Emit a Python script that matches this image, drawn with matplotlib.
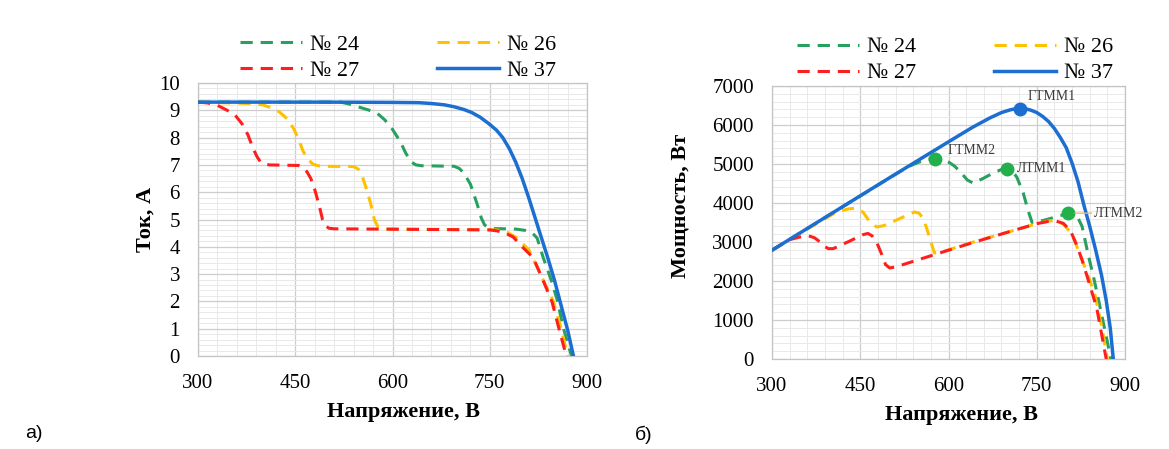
import matplotlib
matplotlib.use("Agg")
import matplotlib.pyplot as plt
from matplotlib.ticker import MultipleLocator

plt.rcParams["font.family"] = ["Liberation Serif", "DejaVu Serif"]

# ---- данные ВАХ (а): напряжение, В / ток, А ----
v24 = [300, 520, 535, 548, 562, 576, 588, 600, 612, 620, 628, 636, 645, 695, 703, 710,
       720, 730, 737, 742, 748, 756, 790, 805, 815, 823, 832, 843, 854, 863, 876]
i24 = [9.3, 9.3, 9.22, 9.12, 9.02, 8.9, 8.65, 8.3, 7.85, 7.45, 7.12, 7.0, 6.97, 6.95, 6.87,
       6.7, 6.3, 5.6, 5.05, 4.8, 4.7, 4.67, 4.65, 4.6, 4.52, 4.32, 3.63, 2.9, 2.05, 1.06, 0]

v26 = [300, 380, 400, 412, 425, 437, 447, 455, 462, 470, 477, 485, 495, 540, 547, 553, 560,
       566, 572, 577, 582, 590, 760, 775, 790, 810, 830, 848, 860, 870]
i26 = [9.3, 9.25, 9.2, 9.1, 8.95, 8.7, 8.35, 7.95, 7.5, 7.2, 7.03, 6.97, 6.95, 6.94, 6.85,
       6.6, 6.1, 5.6, 5.0, 4.75, 4.67, 4.65, 4.62, 4.56, 4.35, 3.9, 2.9, 2.0, 1.0, 0]

v27 = [300, 315, 330, 345, 357, 368, 377, 385, 391, 396, 402, 410, 455, 462, 468, 474, 480,
       487, 492, 497, 502, 510, 750, 762, 774, 786, 800, 817, 832, 846, 856, 868]
i27 = [9.3, 9.27, 9.18, 9.0, 8.83, 8.5, 8.1, 7.6, 7.3, 7.12, 7.04, 7.0, 6.98, 6.9, 6.75, 6.5,
       6.1, 5.5, 5.0, 4.76, 4.68, 4.66, 4.62, 4.58, 4.5, 4.36, 4.0, 3.6, 2.78, 1.98, 1.06, 0]

v37 = [300, 500, 600, 640, 660, 680, 695, 710, 722, 735, 748, 760, 770, 780, 790, 800, 810,
       820, 830, 840, 850, 860, 870, 879]
i37 = [9.3, 9.3, 9.29, 9.28, 9.25, 9.2, 9.13, 9.03, 8.92, 8.75, 8.52, 8.28, 8.0, 7.6, 7.1,
       6.5, 5.8, 5.05, 4.3, 3.55, 2.75, 1.85, 0.95, 0]

# ---- данные мощности (б): напряжение, В / мощность, Вт ----
pv24 = [300, 530, 550, 565, 577, 590, 600, 610, 620, 632, 642, 660, 676, 690, 700, 708, 716,
        727, 735, 742, 755, 770, 790, 803, 812, 820, 827, 837, 848, 858, 867, 876]
p24 = [2790, 4923, 5050, 5120, 5150, 5120, 5050, 4950, 4800, 4590, 4510, 4640, 4770, 4860,
       4897, 4820, 4666, 4256, 3820, 3500, 3530, 3590, 3680, 3720, 3710, 3620, 3400, 2700,
       2000, 1300, 650, 0]

pv26 = [300, 380, 410, 430, 444, 455, 467, 478, 490, 501, 530, 542, 550, 557, 563, 569, 576,
        585, 640, 700, 750, 770, 782, 795, 810, 830, 848, 860, 870]
p26 = [2790, 3510, 3770, 3850, 3870, 3760, 3500, 3385, 3420, 3490, 3690, 3770, 3740, 3600,
       3350, 3050, 2720, 2730, 2990, 3250, 3470, 3540, 3550, 3460, 3200, 2420, 1700, 860, 0]

pv27 = [300, 330, 345, 360, 372, 382, 390, 396, 404, 430, 455, 463, 470, 478, 486, 493, 500,
        510, 560, 640, 700, 750, 770, 782, 795, 807, 817, 827, 841, 852, 860, 868]
p27 = [2790, 3060, 3120, 3170, 3110, 3000, 2880, 2830, 2830, 3010, 3190, 3220, 3160, 2990,
       2700, 2420, 2335, 2360, 2600, 2980, 3250, 3470, 3530, 3540, 3480, 3300, 2950, 2540,
       1850, 1300, 650, 0]

pv37 = [300, 400, 500, 600, 640, 670, 690, 705, 715, 722, 730, 740, 750, 760, 770, 780, 790,
        800, 810, 820, 830, 840, 850, 860, 868, 875, 880]
p37 = [2790, 3720, 4650, 5570, 5935, 6180, 6320, 6390, 6420, 6430, 6420, 6380, 6320, 6220,
       6090, 5910, 5680, 5420, 5020, 4550, 3950, 3400, 2800, 2150, 1500, 780, 0]

# точки максимумов мощности
mpp_v = [722, 577, 700, 803]
mpp_p = [6420, 5140, 4880, 3740]
mpp_names = ["ГТММ1", "ГТММ2", "ЛТММ1", "ЛТММ2"]

x_ticks = [300, 450, 600, 750, 900]

# стили
c24, c26, c27, c37 = "#27a060", "#ffc000", "#ff1e1e", "#1c6fd0"
mpp_colors = [c37, "#22b04b", "#22b04b", "#22b04b"]
dash = (4, 2.6)
lw = 2.2


def oformit(ax, ymax, ystep, yminor):
    ax.set_xlim(300, 900)
    ax.set_ylim(0, ymax)
    ax.set_xticks(x_ticks)
    ax.yaxis.set_major_locator(MultipleLocator(ystep))
    ax.xaxis.set_minor_locator(MultipleLocator(30))
    ax.yaxis.set_minor_locator(MultipleLocator(yminor))
    ax.grid(which="major", color="#cdcdcd", linewidth=0.9)
    ax.grid(which="minor", color="#e9e9e9", linewidth=0.7)
    ax.set_axisbelow(True)
    ax.tick_params(which="both", length=0, labelsize=15, pad=13)
    for s in ax.spines.values():
        s.set_color("#c4c4c4")
        s.set_linewidth(0.9)
    ax.set_xlabel("Напряжение, В", fontsize=16, fontweight="bold", labelpad=8)


def krivye(ax, data):
    lines = []
    for (x, y, col, lab) in data:
        if lab == "№ 37":
            ln, = ax.plot(x, y, color=col, linewidth=lw + 0.3, label=lab, zorder=5)
        else:
            ln, = ax.plot(x, y, color=col, linewidth=lw, label=lab, zorder=4)
            ln.set_dashes(dash)
        lines.append(ln)
    # порядок для двух колонок: 24, 27 | 26, 37
    h = [lines[0], lines[2], lines[1], lines[3]]
    return h


fig = plt.figure(figsize=(11.69, 4.49), dpi=100)
ax1 = fig.add_axes([0.1694, 0.2071, 0.3328, 0.608])
ax2 = fig.add_axes([0.6604, 0.2004, 0.302, 0.608])

# ---- а) ВАХ ----
h1 = krivye(ax1, [(v24, i24, c24, "№ 24"), (v26, i26, c26, "№ 26"),
                  (v27, i27, c27, "№ 27"), (v37, i37, c37, "№ 37")])
oformit(ax1, 10, 1, 0.2)
ax1.set_ylabel("Ток, А", fontsize=16, fontweight="bold")
ax1.yaxis.set_label_coords(-0.11, 0.5)
ax1.xaxis.set_label_coords(0.527, -0.17)
ax1.legend(h1, [l.get_label() for l in h1], ncol=2, loc="center",
           bbox_to_anchor=(0.3405, 0.872), bbox_transform=fig.transFigure,
           frameon=False, fontsize=16, handlelength=2.8, handletextpad=0.35,
           columnspacing=3.5, labelspacing=0.25, borderpad=0)

# ---- б) мощность ----
h2 = krivye(ax2, [(pv24, p24, c24, "№ 24"), (pv26, p26, c26, "№ 26"),
                  (pv27, p27, c27, "№ 27"), (pv37, p37, c37, "№ 37")])
oformit(ax2, 7000, 1000, 200)
ax2.set_ylabel("Мощность, Вт", fontsize=16, fontweight="bold")
ax2.yaxis.set_label_coords(-0.232, 0.56)
ax2.xaxis.set_label_coords(0.538, -0.17)
ax2.legend(h2, [l.get_label() for l in h2], ncol=2, loc="center",
           bbox_to_anchor=(0.817, 0.866), bbox_transform=fig.transFigure,
           frameon=False, fontsize=16, handlelength=2.8, handletextpad=0.35,
           columnspacing=3.5, labelspacing=0.25, borderpad=0)

# максимумы мощности и подписи
sdvig = [(5, 9), (9, 6), (7, 0), (19, 0)]
for v, p, col, name, (dx, dy) in zip(mpp_v, mpp_p, mpp_colors, mpp_names, sdvig):
    ax2.plot(v, p, "o", color=col, markersize=9, zorder=6)
    strelka = dict(arrowstyle="-", color="#f2b27a", linewidth=1, shrinkA=0,
                   shrinkB=5) if name == "ЛТММ2" else None
    ax2.annotate(name, (v, p), xytext=(dx, dy), textcoords="offset points",
                 fontsize=10, color="#3a3a3a", ha="left", va="center",
                 annotation_clip=False, arrowprops=strelka, zorder=7)

fig.text(25 / 1169, 1 - 433 / 449, "а)", fontsize=14, family="Liberation Sans",
         va="center", ha="left")
fig.text(635 / 1169, 1 - 435 / 449, "б)", fontsize=14, family="Liberation Sans",
         va="center", ha="left")

plt.savefig("out.png", dpi=100)
